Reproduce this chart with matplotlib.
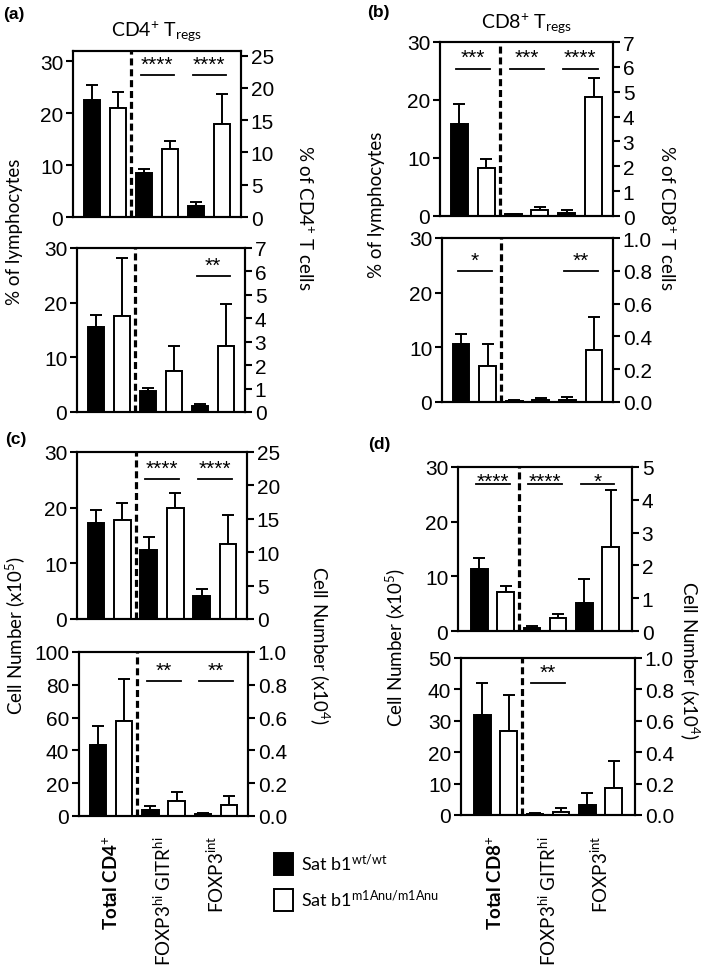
import numpy as np
import matplotlib.pyplot as plt
from matplotlib.patches import Rectangle
from matplotlib.transforms import blended_transform_factory

plt.rcParams['font.family'] = ['Liberation Sans', 'DejaVu Sans']
plt.rcParams['mathtext.fontset'] = 'custom'
plt.rcParams['mathtext.rm'] = 'Lato'
plt.rcParams['mathtext.it'] = 'Lato:italic'
plt.rcParams['mathtext.bf'] = 'Lato:bold'

W, H = 709, 978
LAB = ['Lato', 'DejaVu Sans']

# bar order: wt, mut for Total, FOXP3hi GITRhi, FOXP3int
pos = np.arange(6)
fills = ['black', 'white'] * 3

# (a) CD4 Tregs, % of lymphocytes / % of CD4 T cells
a_top_vals = [22.5, 21.1, 8.5, 13.2, 2.05, 17.9]
a_top_sem = [2.9, 3.0, 0.7, 1.4, 0.75, 5.9]
a_bot_vals = [15.5, 17.5, 3.9, 7.5, 1.05, 12.0]
a_bot_sem = [2.3, 10.6, 0.5, 4.5, 0.4, 7.7]
# (b) CD8 Tregs
b_top_vals = [15.8, 8.3, 0.3, 1.0, 0.6, 20.5]
b_top_sem = [3.5, 1.5, 0.1, 0.55, 0.5, 3.3]
b_bot_vals = [10.7, 6.6, 0.2, 0.3, 0.4, 9.6]
b_bot_sem = [1.7, 4.1, 0.15, 0.4, 0.45, 6.0]
# (c) CD4 cell numbers
c_top_vals = [17.2, 17.7, 12.4, 19.9, 4.2, 13.4]
c_top_sem = [2.3, 3.2, 2.3, 2.8, 1.1, 5.2]
c_bot_vals = [43.3, 57.8, 3.9, 9.2, 1.0, 6.5]
c_bot_sem = [11.8, 25.5, 2.0, 5.5, 0.6, 5.7]
# (d) CD8 cell numbers
d_top_vals = [11.3, 7.1, 0.6, 2.4, 5.2, 15.4]
d_top_sem = [2.1, 1.1, 0.3, 0.8, 4.4, 10.4]
d_bot_vals = [31.9, 26.7, 0.3, 1.0, 3.2, 8.6]
d_bot_sem = [10.1, 11.5, 0.2, 1.1, 3.9, 8.5]

cd4_groups = ['Total CD4$^{+}$', r'FOXP3$^{\mathrm{hi}}$ GITR$^{\mathrm{hi}}$', r'FOXP3$^{\mathrm{int}}$']
cd8_groups = ['Total CD8$^{+}$', r'FOXP3$^{\mathrm{hi}}$ GITR$^{\mathrm{hi}}$', r'FOXP3$^{\mathrm{int}}$']

fig = plt.figure(figsize=(W / 100, H / 100), dpi=100)


def make_ax(x0, y0, x1, y1):
    return fig.add_axes([x0 / W, 1 - y1 / H, (x1 - x0) / W, (y1 - y0) / H])


def panel(rect, vals, sem, ylim, yticks, rlim, rticks, sigs, xpad=0.72, star_off=1):
    ax = make_ax(*rect)
    ax.errorbar(pos, vals, yerr=[np.zeros(6), sem], fmt='none', ecolor='black',
                elinewidth=1.4, capsize=4, capthick=1.4, zorder=1)
    ax.bar(pos, vals, width=0.63, color=fills, edgecolor='black', linewidth=1.4, zorder=2)
    ax.axvline(1.5, color='black', lw=2.3, ls=(0, (2.2, 1.2)), zorder=3)
    ax.set_xlim(-xpad, 5 + xpad)
    ax.set_ylim(*ylim)
    ax.set_yticks(yticks)
    ax.set_xticks([])
    for s in ax.spines.values():
        s.set_linewidth(1.5)
    ax.tick_params(axis='y', labelsize=15, width=1.5, length=5, pad=2)
    # significance bars
    for i, stars, y in sigs:
        ax.plot([i - 0.13, i + 1.15], [y, y], color='black', lw=1.3)
        ax.annotate(stars, (i + 0.5, y), xytext=(0, star_off), textcoords='offset points',
                    ha='center', va='bottom', fontsize=15)
    ax2 = ax.twinx()
    ax2.set_ylim(*rlim)
    ax2.set_yticks(rticks)
    ax2.tick_params(axis='y', labelsize=15, width=1.5, length=5, pad=2)
    for s in ax2.spines.values():
        s.set_linewidth(1.5)
    return ax


panel((73, 52, 241, 218), a_top_vals, a_top_sem, (0, 32), [0, 10, 20, 30],
      (0, 25.7), [0, 5, 10, 15, 20, 25], [(2, '****', 27.3), (4, '****', 27.3)])
panel((77, 249, 245, 413), a_bot_vals, a_bot_sem, (0, 30), [0, 10, 20, 30],
      (0, 7), range(8), [(4, '**', 24.8)])
panel((440, 43, 613, 217), b_top_vals, b_top_sem, (0, 30), [0, 10, 20, 30],
      (0, 7), range(8), [(0, '***', 25.4), (2, '***', 25.4), (4, '****', 25.4)])
panel((442, 239, 613, 403), b_bot_vals, b_bot_sem, (0, 30), [0, 10, 20, 30],
      (0, 1), [0, 0.2, 0.4, 0.6, 0.8, 1.0], [(0, '*', 24.0), (4, '**', 24.0)])
panel((77, 453, 247, 620), c_top_vals, c_top_sem, (0, 30), [0, 10, 20, 30],
      (0, 25), [0, 5, 10, 15, 20, 25], [(2, '****', 25.1), (4, '****', 25.1)])
ax_c = panel((79, 653, 248, 817), c_bot_vals, c_bot_sem, (0, 100), [0, 20, 40, 60, 80, 100],
             (0, 1), [0, 0.2, 0.4, 0.6, 0.8, 1.0], [(2, '**', 82.2), (4, '**', 82.2)])
panel((458, 468, 632, 632), d_top_vals, d_top_sem, (0, 30), [0, 10, 20, 30],
      (0, 5), range(6), [(0, '****', 26.9), (2, '****', 26.9), (4, '*', 26.9)],
      xpad=0.82, star_off=-5)
ax_d = panel((461, 659, 635, 816), d_bot_vals, d_bot_sem, (0, 50), [0, 10, 20, 30, 40, 50],
             (0, 1), [0, 0.2, 0.4, 0.6, 0.8, 1.0], [(2, '**', 42.0)], xpad=0.82)


def ftext(x, y, s, **kw):
    fig.text(x / W, 1 - y / H, s, **kw)


# axis titles
ftext(15, 232, '% of lymphocytes', rotation=90, ha='center', va='center', fontsize=13.5, family=LAB)
ftext(305, 218, '% of CD4$^{+}$ T cells', rotation=270, ha='center', va='center', fontsize=13.5, family=LAB)
ftext(377, 205, '% of lymphocytes', rotation=90, ha='center', va='center', fontsize=13.5, family=LAB)
ftext(667, 218, '% of CD8$^{+}$ T cells', rotation=270, ha='center', va='center', fontsize=13.5, family=LAB)
ftext(15, 636, 'Cell Number (x10$^{5}$)', rotation=90, ha='center', va='center', fontsize=13.5, family=LAB)
ftext(320, 645, 'Cell Number (x10$^{4}$)', rotation=270, ha='center', va='center', fontsize=13.5, family=LAB)
ftext(395, 648, 'Cell Number (x10$^{5}$)', rotation=90, ha='center', va='center', fontsize=13.5, family=LAB)
ftext(690, 660, 'Cell Number (x10$^{4}$)', rotation=270, ha='center', va='center', fontsize=13.5, family=LAB)

# titles
ftext(157, 32, 'CD4$^{+}$ T$_{\\mathrm{regs}}$', ha='center', va='center', fontsize=14, family=LAB)
ftext(527, 24, 'CD8$^{+}$ T$_{\\mathrm{regs}}$', ha='center', va='center', fontsize=14, family=LAB)

# panel letters
for lx, ly, lt in [(3, 14, '(a)'), (367, 12, '(b)'), (5, 440, '(c)'), (368, 445, '(d)')]:
    ftext(lx, ly, lt, ha='left', va='center', fontsize=12.5, fontweight='bold')

# category labels under the bottom panels
for ax, names in [(ax_c, cd4_groups), (ax_d, cd8_groups)]:
    tr = blended_transform_factory(ax.transData, fig.transFigure)
    for k, name in enumerate(names):
        weight = 'bold' if k == 0 else 'normal'
        fig.text(2 * k + 0.5, 1 - 836 / H, name, transform=tr, rotation=90,
                 ha='center', va='top', fontsize=13.5, family=LAB, fontweight=weight)

# legend
fig.patches.append(Rectangle((274 / W, 1 - 876 / H), 19 / W, 22 / H, transform=fig.transFigure,
                             facecolor='black', edgecolor='black', lw=1.4))
fig.patches.append(Rectangle((274 / W, 1 - 912 / H), 19 / W, 22 / H, transform=fig.transFigure,
                             facecolor='white', edgecolor='black', lw=1.4))
ftext(301, 864, 'Sat b1$^{\\mathrm{wt/wt}}$', ha='left', va='center', fontsize=13, family=LAB)
ftext(301, 900, 'Sat b1$^{\\mathrm{m1Anu/m1Anu}}$', ha='left', va='center', fontsize=13, family=LAB)

fig.savefig('out.png', dpi=100)
